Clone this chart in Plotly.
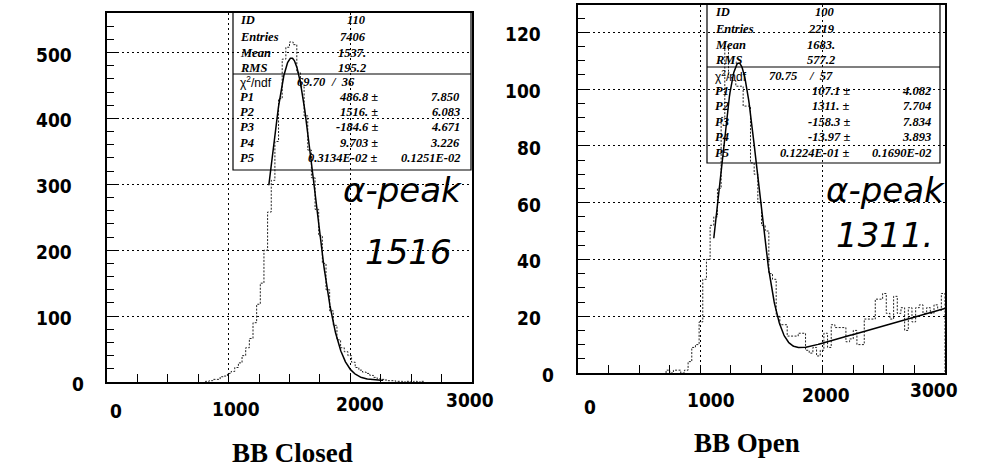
import numpy as np
import plotly.graph_objects as go

# ---------------- data ----------------
BIN_WIDTH = 30

# BB Closed spectrum (ID 110), 30-channel bins starting at channel 810
closed_start = 810
closed_counts = [1, 2, 4, 4, 8, 9, 13, 16, 22, 29, 40, 52, 66, 90, 118, 150,
                 200, 258, 306, 365, 430, 490, 508, 516, 512, 470, 448, 404,
                 352, 310, 262, 222, 180, 140, 108, 86, 64, 52, 46, 40, 30, 22,
                 18, 15, 13, 10, 7, 5, 4, 3, 2, 2, 1, 1, 0, 1, 0, 1, 0, 1]

# BB Open spectrum (ID 100), 30-channel bins starting at channel 720
open_start = 720
open_counts = [1, 0, 1, 1, 0, 1, 4, 9, 10, 18, 33, 40, 52, 55, 65, 90, 115,
               104, 103, 101, 101, 94, 94, 74, 70, 60, 52, 50, 35, 33, 20, 17,
               17, 13, 13, 13, 14, 14, 8, 7, 9, 6, 8, 14, 9, 17, 16, 16, 16,
               11, 12, 15, 10, 10, 19, 19, 19, 26, 26, 28, 21, 19, 27, 21, 23,
               15, 23, 18, 23, 24, 21, 23, 21, 24, 22, 28]

# fit parameters P1..P5 : gaussian + linear background
closed_fit = [486.8, 1516.0, -184.6, 9.703, -0.3134e-2]
open_fit = [107.1, 1311.0, -158.3, -13.97, 0.1224e-1]
closed_fit_range = (1330, 2270)
open_fit_range = (1110, 3000)

closed_stats = {"ID": "110", "Entries": "7406", "Mean": "1537.", "RMS": "195.2"}
open_stats = {"ID": "100", "Entries": "2219", "Mean": "1683.", "RMS": "577.2"}
closed_chi2 = ("69.70", "36")
open_chi2 = ("70.75", "57")
closed_par_txt = ["486.8", "1516.", "-184.6", "9.703", "0.3134E-02"]
closed_err_txt = ["7.850", "6.083", "4.671", "3.226", "0.1251E-02"]
open_par_txt = ["107.1", "1311.", "-158.3", "-13.97", "0.1224E-01"]
open_err_txt = ["4.082", "7.704", "7.834", "3.893", "0.1690E-02"]

closed_yticks = [0, 100, 200, 300, 400, 500]
open_yticks = [0, 20, 40, 60, 80, 100, 120]
xticks = [0, 1000, 2000, 3000]

W, H = 1007, 470


def px(x):
    return x / W


def py(y):
    return 1 - y / H


def step_xy(start, counts):
    edges = start + BIN_WIDTH * np.arange(len(counts) + 1)
    xs = [edges[0]] + list(edges)
    ys = [0] + list(counts) + [counts[-1]]
    xs.append(edges[-1])
    ys.append(0)
    return xs, ys


def fit_curve(p, rng):
    x = np.linspace(rng[0], rng[1], 400)
    y = p[0] * np.exp(-0.5 * ((x - p[1]) / p[2]) ** 2) + p[3] + p[4] * x
    return x, y


fig = go.Figure()

for start, counts, fit, rng, xa, ya in [
    (closed_start, closed_counts, closed_fit, closed_fit_range, "x", "y"),
    (open_start, open_counts, open_fit, open_fit_range, "x2", "y2"),
]:
    hx, hy = step_xy(start, counts)
    fig.add_trace(go.Scatter(x=hx, y=hy, mode="lines", line_shape="hv",
                             line=dict(color="#222", width=1, dash="2px,1.5px"),
                             xaxis=xa, yaxis=ya, showlegend=False))
    fx, fy = fit_curve(fit, rng)
    fig.add_trace(go.Scatter(x=fx, y=fy, mode="lines",
                             line=dict(color="black", width=1.5),
                             xaxis=xa, yaxis=ya, showlegend=False))

grid = dict(showgrid=True, gridcolor="black", gridwidth=1, griddash="2px,3px")
frame = dict(showline=True, linecolor="black", linewidth=1.5, mirror=True,
             zeroline=False, showticklabels=False, ticks="inside",
             tickcolor="black")

xcommon = dict(range=[0, 3000], tickvals=[1000, 2000], ticklen=8,
               minor=dict(dtick=250, ticks="inside", ticklen=8,
                          tickcolor="black", showgrid=False), **grid, **frame)

fig.update_layout(
    width=W, height=H, margin=dict(l=0, r=0, t=0, b=0),
    paper_bgcolor="white", plot_bgcolor="white",
    xaxis=dict(domain=[px(107), px(472)], anchor="y", **xcommon),
    yaxis=dict(domain=[py(382), py(13)], anchor="x", range=[0, 560],
               tickvals=[100, 200, 300, 400, 500], ticklen=12,
               minor=dict(dtick=20, ticks="inside", ticklen=7,
                          tickcolor="black", showgrid=False),
               **grid, **frame),
    xaxis2=dict(domain=[px(578), px(945)], anchor="y2", **xcommon),
    yaxis2=dict(domain=[py(373), py(5)], anchor="x2", range=[0, 129.6],
                tickvals=[20, 40, 60, 80, 100, 120], ticklen=12,
                minor=dict(dtick=5, ticks="inside", ticklen=7,
                           tickcolor="black", showgrid=False),
                **grid, **frame),
)

ann = []
tick_font = dict(family="Liberation Sans Narrow, DejaVu Sans Condensed, Arial",
                 size=19, color="black")

# y tick labels
for vals, yref, x_right, x_zero in [(closed_yticks, "y", 74, 86),
                                     (open_yticks, "y2", 543, 556)]:
    for v in vals:
        ann.append(dict(x=px(x_zero if v == 0 else x_right), xref="paper",
                        y=v, yref=yref, xanchor="right", yanchor="middle",
                        yshift=-2, text=f"<b>{v}</b>", showarrow=False,
                        font=tick_font))

# x tick labels (centre x, centre y in pixels)
x_label_pos = {
    "x": [(116, 411), (236, 409), (360, 404), (470, 400)],
    "x2": [(590, 407), (711, 400), (826, 395), (934, 390)],
}
for xa, pos in x_label_pos.items():
    for v, (cx, cy) in zip(xticks, pos):
        ann.append(dict(x=px(cx), y=py(cy), xref="paper", yref="paper",
                        xanchor="center", yanchor="middle",
                        text=f"<b>{v}</b>", showarrow=False, font=tick_font))

# statistics boxes
box_font = dict(family="Liberation Serif", size=12.5, color="black")
sans_font = dict(family="Liberation Sans", size=12, color="black")


def stat_box(x0, x1, y0, ysep, y1, rows, label_x, val_right, stats, chi2,
             chi_x, ndf_x, par_right, err_right, pars, errs):
    shapes = [
        dict(type="rect", xref="paper", yref="paper", x0=px(x0), x1=px(x1),
             y0=py(y1), y1=py(y0), line=dict(color="black", width=1.2)),
        dict(type="line", xref="paper", yref="paper", x0=px(x0), x1=px(x1),
             y0=py(ysep), y1=py(ysep), line=dict(color="black", width=1.2)),
    ]
    out = []
    for (key, val), ry in zip(stats.items(), rows[:4]):
        out.append(dict(x=px(label_x), y=py(ry), xanchor="left",
                        text=f"<b><i>{key}</i></b>", font=box_font))
        out.append(dict(x=px(val_right), y=py(ry), xanchor="right",
                        text=f"<b><i>{val}</i></b>", font=box_font))
    ry = rows[4]
    out.append(dict(x=px(label_x), y=py(ry), xanchor="left",
                    text="χ<sup>2</sup>/ndf", font=sans_font))
    out.append(dict(x=px(chi_x), y=py(ry), xanchor="right",
                    text=f"<b><i>{chi2[0]}</i></b>", font=box_font))
    out.append(dict(x=px(ndf_x), y=py(ry), xanchor="right",
                    text=f"<b><i>/  {chi2[1]}</i></b>", font=box_font))
    for i, ry in enumerate(rows[5:]):
        out.append(dict(x=px(label_x), y=py(ry), xanchor="left",
                        text=f"<b><i>P{i + 1}</i></b>", font=box_font))
        out.append(dict(x=px(par_right), y=py(ry), xanchor="right",
                        text=f"<b><i>{pars[i]} ±</i></b>", font=box_font))
        out.append(dict(x=px(err_right), y=py(ry), xanchor="right",
                        text=f"<b><i>{errs[i]}</i></b>", font=box_font))
    for a in out:
        a.update(xref="paper", yref="paper", yanchor="middle", showarrow=False)
    return shapes, out


s1, a1 = stat_box(233, 471, 12, 74, 170,
                  [20, 37, 53, 68, 82, 97, 112, 127, 143, 158],
                  238, 368, closed_stats, closed_chi2, 328, 357, 380, 462,
                  closed_par_txt, closed_err_txt)
s2, a2 = stat_box(707, 940, 4, 67, 163,
                  [12, 29, 45, 60, 76, 91, 106, 122, 137, 153],
                  713, 837, open_stats, open_chi2, 799, 835, 852, 933,
                  open_par_txt, open_err_txt)
ann += a1 + a2

# handwritten notes
note_font = dict(family="DejaVu Sans", size=34, color="black")
for text, cx, cy in [("<i>α-peak</i>", 402, 190), ("<i>1516</i>", 408, 252),
                     ("<i>α-peak</i>", 885, 190), ("<i>1311.</i>", 884, 235)]:
    ann.append(dict(x=px(cx), y=py(cy), xref="paper", yref="paper",
                    xanchor="center", yanchor="middle",
                    text=text, showarrow=False, font=note_font))

# panel titles
title_font = dict(family="Liberation Serif", size=27, color="black")
for text, cx, cy in [("<b>BB Closed</b>", 292, 453), ("<b>BB Open</b>", 747, 443)]:
    ann.append(dict(x=px(cx), y=py(cy), xref="paper", yref="paper",
                    xanchor="center", yanchor="middle",
                    text=text, showarrow=False, font=title_font))

fig.update_layout(annotations=ann, shapes=s1 + s2)
fig.write_html("out.html")
